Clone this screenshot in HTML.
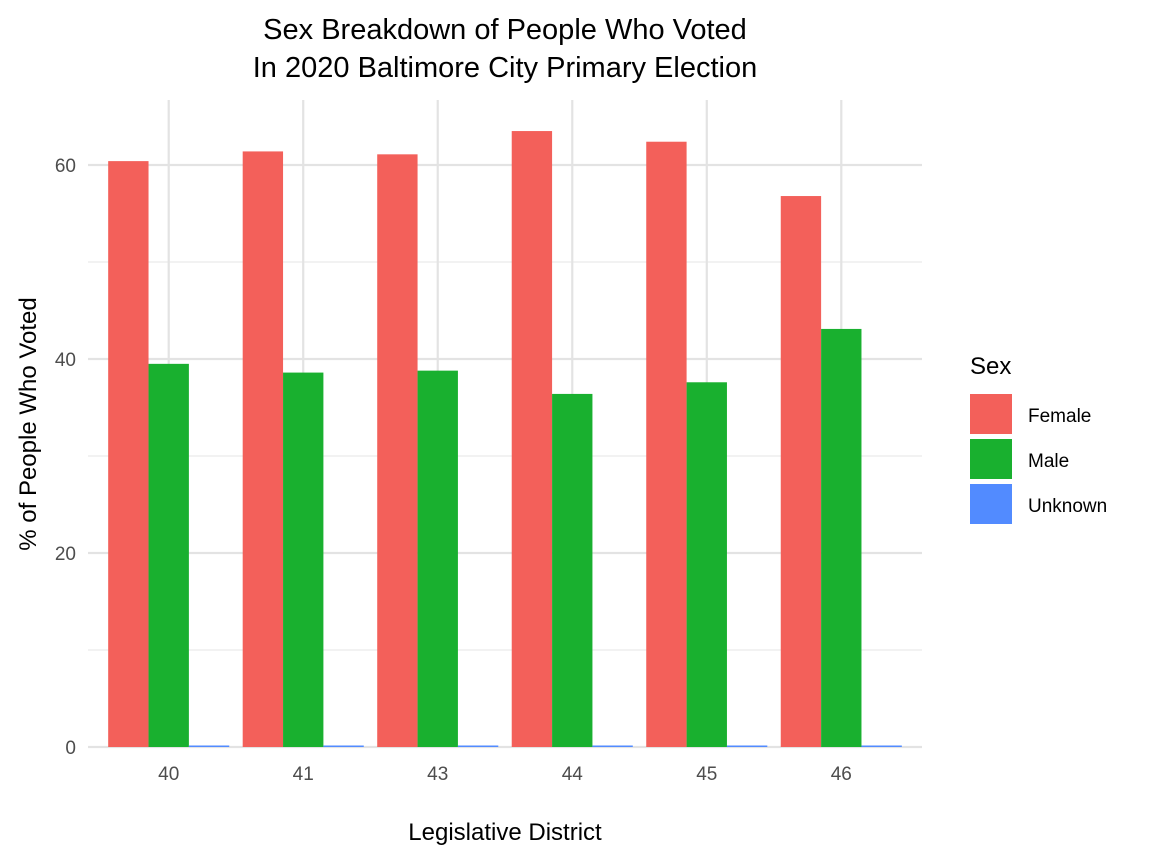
<!DOCTYPE html>
<html><head><meta charset="utf-8">
<style>
body{margin:0;background:#fff;font-family:"Liberation Sans",Arial,sans-serif;}
svg text{font-family:"Liberation Sans",Arial,sans-serif;}
</style></head>
<body>
<svg id="chart" width="1156" height="862" viewBox="0 0 1156 862">
<text x="505" y="39" text-anchor="middle" font-size="29" fill="#000">Sex Breakdown of People Who Voted</text>
<text x="505" y="77" text-anchor="middle" font-size="29" fill="#000">In 2020 Baltimore City Primary Election</text>
<g id="grid"></g>
<g id="bars"></g>
<g id="axes"></g>
<text x="505" y="840" text-anchor="middle" font-size="24" fill="#000">Legislative District</text>
<text transform="translate(36,424) rotate(-90)" text-anchor="middle" font-size="24" fill="#000">% of People Who Voted</text>
<g>
<text x="970" y="374" font-size="24" fill="#000">Sex</text>
<rect x="970" y="394" width="42" height="40" fill="#F3605A"/>
<text x="1028" y="422" font-size="19" fill="#000">Female</text>
<rect x="970" y="439" width="42" height="40" fill="#19B02F"/>
<text x="1028" y="467" font-size="19" fill="#000">Male</text>
<rect x="970" y="484" width="42" height="40" fill="#528BFF"/>
<text x="1028" y="512" font-size="19" fill="#000">Unknown</text>
</g>
</svg>
<script>
const categories = ["40","41","43","44","45","46"];
const female = [60.4, 61.4, 61.1, 63.5, 62.4, 56.8];
const male = [39.5, 38.6, 38.8, 36.4, 37.6, 43.1];
const unknown = [0.1, 0.1, 0.1, 0.1, 0.1, 0.1];
const yMajor = [0, 20, 40, 60];
const yMinor = [10, 30, 50];
const seriesColors = ["#F3605A", "#19B02F", "#528BFF"];

const NS = "http://www.w3.org/2000/svg";
const plotLeft = 88, plotRight = 922, plotTop = 100, y0 = 747;
const yScale = v => y0 - v * 9.7;
const step = (plotRight - plotLeft) / (categories.length + 0.2);
const xScale = i => plotLeft + (i + 0.6) * step;
function mk(tag, attrs, parent) {
  const e = document.createElementNS(NS, tag);
  for (const k in attrs) e.setAttribute(k, attrs[k]);
  parent.appendChild(e);
  return e;
}
const grid = document.getElementById("grid");
yMinor.forEach(v => {
  const l = mk("line", {x1: plotLeft, x2: plotRight, y1: yScale(v), y2: yScale(v), stroke: "#ebebeb", "stroke-width": 1.2}, grid);
  
  
});
yMajor.forEach(v => {
  const l = mk("line", {x1: plotLeft, x2: plotRight, y1: yScale(v), y2: yScale(v), stroke: "#e3e3e3", "stroke-width": 2.2}, grid);
  
  
});
categories.forEach((c, i) => {
  const l = mk("line", {x1: xScale(i), x2: xScale(i), y1: plotTop, y2: y0, stroke: "#e3e3e3", "stroke-width": 2.2}, grid);
  
  
});
const bars = document.getElementById("bars");
const series = [female, male, unknown];
const sNames = ["female", "male", "unknown"];
const bw = step * 0.9 / 3;
categories.forEach((c, i) => {
  series.forEach((s, j) => {
    const x = xScale(i) - 1.5 * bw + j * bw;
    const h = Math.max(s[i] * 9.7, 1.5);
    const r = mk("rect", {x: x, y: y0 - h, width: bw, height: h, fill: seriesColors[j]}, bars);
    
    
  });
});
const axes = document.getElementById("axes");
yMajor.forEach(v => {
  const t = mk("text", {x: 76, y: yScale(v) + 7, "text-anchor": "end", "font-size": 19, fill: "#4d4d4d"}, axes);
  t.textContent = v;
  
  
});
categories.forEach((c, i) => {
  const t = mk("text", {x: xScale(i), y: 780, "text-anchor": "middle", "font-size": 19, fill: "#4d4d4d"}, axes);
  t.textContent = c;
  
  
});
</script>
</body></html>
